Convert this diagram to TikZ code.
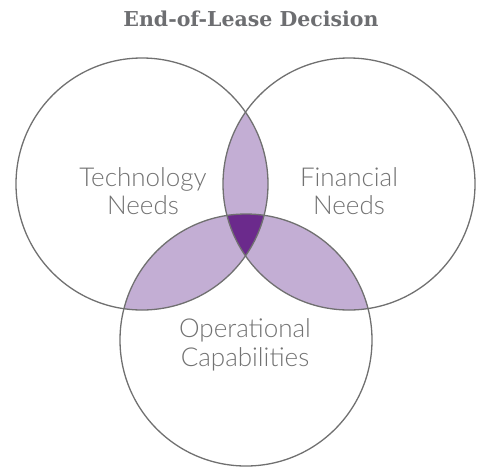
\documentclass[tikz,border=0pt]{standalone}
\usepackage{fontspec}
\setmainfont{Lato}
\newfontfamily\lblfont{Lato Light}
\newfontfamily\titlefont{DejaVu Serif}
\definecolor{lightpurple}{HTML}{C3AED4}
\definecolor{darkpurple}{HTML}{6B2A8C}
\definecolor{edgegray}{HTML}{707070}
\definecolor{textgray}{HTML}{727272}
\definecolor{titlegray}{HTML}{6D6E71}
\tikzset{
  venn/.style={draw=edgegray, line width=1.3pt},
  lbl/.style={text=textgray, font=\lblfont\fontsize{26}{28.5}\selectfont, align=center},
  ttl/.style={text=titlegray, font=\titlefont\bfseries\fontsize{20.5}{24}\selectfont}
}
\begin{document}
\begin{tikzpicture}[x=1pt,y=-1pt]
\useasboundingbox (0,0) rectangle (481,469);
\coordinate (cl) at (142,184);
\coordinate (cr) at (349,184);
\coordinate (cb) at (246,340);
\def\rr{126}
% pairwise intersections
\begin{scope}
  \clip (cl) circle[radius=\rr];
  \fill[lightpurple] (cr) circle[radius=\rr];
  \fill[lightpurple] (cb) circle[radius=\rr];
\end{scope}
\begin{scope}
  \clip (cr) circle[radius=\rr];
  \fill[lightpurple] (cb) circle[radius=\rr];
\end{scope}
% triple intersection
\begin{scope}
  \clip (cl) circle[radius=\rr];
  \clip (cr) circle[radius=\rr];
  \fill[darkpurple] (cb) circle[radius=\rr];
\end{scope}
\draw[venn] (cl) circle[radius=\rr];
\draw[venn] (cr) circle[radius=\rr];
\draw[venn] (cb) circle[radius=\rr];
\node[ttl] (title) at (251,19) {End-of-Lease Decision};
\node[lbl] (tech) at (143,191) {Technology\\Needs};
\node[lbl] (fin) at (349,191) {Financial\\Needs};
\node[lbl] (ops) at (245,345) {Operational\\Capabilities};
\end{tikzpicture}
\end{document}
